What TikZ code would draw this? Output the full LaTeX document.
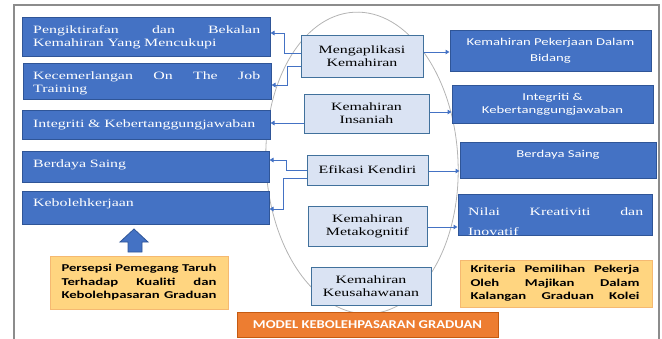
\documentclass[tikz,border=0pt]{standalone}
\usepackage{fontspec}
\usetikzlibrary{arrows.meta}
\newfontfamily\srf[FakeStretch=1.42]{Liberation Serif}
\newfontfamily\sns[FakeStretch=1.4]{Carlito}
\newfontfamily\bnr[FakeStretch=1.22]{Carlito}
\definecolor{bblue}{HTML}{4472C4}
\definecolor{bbord}{HTML}{2F5597}
\definecolor{lfill}{HTML}{DAE3F3}
\definecolor{lbord}{HTML}{41719C}
\definecolor{yfill}{HTML}{FFD580}
\definecolor{ybord}{HTML}{F5B971}
\definecolor{ofill}{HTML}{ED7D31}
\definecolor{obord}{HTML}{C55A11}
\definecolor{frm}{HTML}{8C8C8C}
\definecolor{ell}{HTML}{B4B4B4}
\tikzset{
  lbox/.style={rectangle, draw=bbord, fill=bblue, line width=1pt, inner sep=0pt},
  cbox/.style={rectangle, draw=lbord, fill=lfill, line width=1pt, inner sep=0pt, align=center,
    font=\srf\fontsize{11.2}{12.7}\selectfont, text=black},
  ybox/.style={rectangle, draw=ybord, fill=yfill, line width=1pt, inner sep=0pt},
  ltext/.style={anchor=west, inner sep=0pt, text width=227pt, align=left, text=white,
    font=\srf\fontsize{11.2}{13.5}\selectfont},
  stext/.style={inner sep=0pt, align=center, text=white, font=\sns\fontsize{10.5}{16}\selectfont},
  ytext/.style={inner sep=0pt, align=left, text=black, font=\sns\bfseries\fontsize{10.5}{13.5}\selectfont},
  conn/.style={draw=bblue, line width=1pt, -{Triangle[length=4pt,width=4.5pt]}},
}
\begin{document}
\begin{tikzpicture}[x=1pt,y=-1pt]
\useasboundingbox (0,0) rectangle (662,338);
% frame
\draw[frm, line width=1.2pt] (14,345) -- (14,5) -- (659,5) -- (659,345);
% ellipse
\draw[ell, line width=0.8pt, rotate around={3:(362,163)}] (362,163) ellipse [x radius=96pt, y radius=151pt];
% left boxes
\node[lbox, minimum width=248pt, minimum height=39pt] (L1) at (146,36.5) {};
\node[lbox, minimum width=248pt, minimum height=36pt] (L2) at (147,81) {};
\node[lbox, minimum width=248pt, minimum height=29pt] (L3) at (146,124.5) {};
\node[lbox, minimum width=247pt, minimum height=31pt] (L4) at (145.5,166.5) {};
\node[lbox, minimum width=247pt, minimum height=33pt] (L5) at (145.5,207.5) {};
\node[ltext] (t1) at (33,37.5) {Pengiktirafan\hfill dan\hfill Bekalan\\Kemahiran Yang Mencukupi};
\node[ltext] (t2) at (33,83.5) {Kecemerlangan\hfill On\hfill The\hfill Job\\Training};
\node[ltext, text height=8pt, text depth=2.5pt] (t3) at (33,124.4) {Integriti \& Kebertanggungjawaban};
\node[ltext, text height=8pt, text depth=2.5pt] (t4) at (33,164.4) {Berdaya Saing};
\node[ltext, text height=8pt, text depth=2.5pt] (t5) at (33,203.4) {Kebolehkerjaan};
% block arrow
\draw[bbord, fill=bblue, line width=0.8pt] (134,229) -- (148,242) -- (142,242) -- (142,252) -- (128,252) -- (128,242) -- (120,242) -- cycle;
% left yellow
\node[ybox, minimum width=178pt, minimum height=53pt] (YL) at (139,282.5) {};
\node[ytext, text width=155pt] (ylt) at (139,282.5) {Persepsi\hfill Pemegang\hfill Taruh\\Terhadap\hfill Kualiti\hfill dan\\Kebolehpasaran\hfill Graduan};
% centre boxes
\node[cbox, minimum width=122pt, minimum height=42pt] (m1) at (362,56) {Mengaplikasi\\Kemahiran};
\node[cbox, minimum width=125pt, minimum height=39pt] (m2) at (366.5,113.5) {Kemahiran\\Insaniah};
\node[cbox, minimum width=121pt, minimum height=30pt] (m3) at (367.5,170) {Efikasi Kendiri};
\node[cbox, minimum width=119pt, minimum height=40pt] (m4) at (367.5,226) {Kemahiran\\Metakognitif};
\node[cbox, minimum width=120pt, minimum height=38pt] (m5) at (371,286) {Kemahiran\\Keusahawanan};
% right boxes
\node[lbox, minimum width=201pt, minimum height=41pt, stext] (R1) at (550.5,50.5) {Kemahiran Pekerjaan Dalam\\Bidang};
\node[lbox, minimum width=201pt, minimum height=38pt, stext, font=\sns\fontsize{10.5}{13}\selectfont] (R2) at (552.5,104) {Integriti \&\\Kebertanggungjawaban};
\node[lbox, minimum width=196pt, minimum height=36pt] (R3) at (558,160) {};
\node[stext, text height=7pt, text depth=2.5pt] (r3t) at (558,155.5) {Berdaya Saing};
\node[lbox, minimum width=194pt, minimum height=41pt] (R4) at (555,214.5) {};
\begin{scope}
\clip (458.5,194.5) rectangle (651.5,234.5);
\node[ltext, text width=175pt, font=\srf\fontsize{11.2}{20}\selectfont] (r4t) at (468,221.5) {Nilai\hfill Kreativiti\hfill dan\\Inovatif};
\end{scope}
\node[ybox, minimum width=192pt, minimum height=47pt] (YR) at (556,283.5) {};
\node[ytext, text width=169pt] (yrt) at (555,283.5) {Kriteria\hfill Pemilihan\hfill Pekerja\\Oleh\hfill Majikan\hfill Dalam\\Kalangan\hfill Graduan\hfill Kolei};
% banner
\node[rectangle, draw=obord, fill=ofill, line width=1pt, minimum width=261pt, minimum height=25pt,
  text=white, font=\bnr\bfseries\fontsize{12}{14}\selectfont] (ban) at (367.5,324.5) {MODEL KEBOLEHPASARAN GRADUAN};
% connectors
\draw[conn] (m1.west |- 0,53) -| (284,33) -- (L1.east |- 0,33);
\draw[conn] (m1.west |- 0,66) -| (287,85) -- (L2.east |- 0,85);
\draw[conn] (m1.east |- 0,52) -- (R1.west |- 0,52);
\draw[conn] (m2.west |- 0,123) -- (L3.east |- 0,123);
\draw[conn] (m2.east |- 0,112) -- (R2.west |- 0,112);
\draw[conn] (m3.west |- 0,170) -| (286,160) -- (L4.east |- 0,160);
\draw[conn] (m3.west |- 0,178) -| (283,209) -- (L5.east |- 0,209);
\draw[conn] (m3.east |- 0,171) -- (R3.west |- 0,171);
\draw[conn] (m4.east |- 0,227) -- (R4.west |- 0,227);
\end{tikzpicture}
\end{document}
